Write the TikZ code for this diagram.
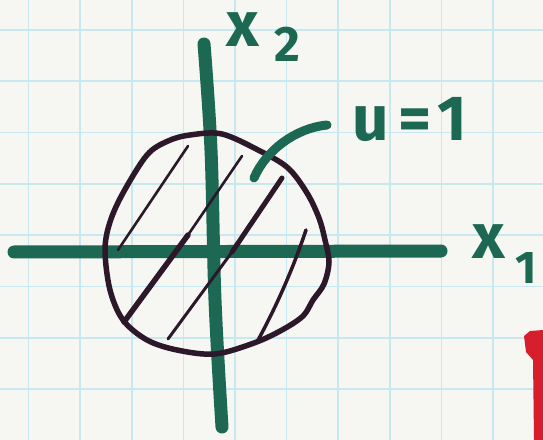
\documentclass[tikz,border=0pt]{standalone}
\usepackage{fontspec}
\setmainfont{Fira Sans}
\definecolor{paper}{RGB}{246,246,243}
\definecolor{gridc}{RGB}{198,232,238}
\definecolor{greenink}{RGB}{28,104,82}
\definecolor{darkink}{RGB}{45,24,42}
\definecolor{redink}{RGB}{215,30,45}
\tikzset{
  axisline/.style={greenink, line width=13bp, line cap=round},
  leader/.style={greenink, line width=9bp, line cap=round},
  circink/.style={darkink, line width=5.5bp, line cap=round, line join=round},
  hatch/.style={darkink, line cap=round},
  handlabel/.style={greenink, font=\fontsize{64}{64}\selectfont\bfseries, inner sep=0pt},
  gridline/.style={gridc, line width=1.6bp}
}
\begin{document}
\begin{tikzpicture}[x=1bp,y=-1bp]
\useasboundingbox (0,0) rectangle (543,440);
\fill[paper] (0,0) rectangle (543,440);
% grid
\foreach \i in {0,...,10} {
  \draw[gridline] ({28.5+51.6*\i},0) -- ({28.5+51.6*\i},440);
}
\foreach \j in {-1,0,...,8} {
  \draw[gridline] (0,{30+51.3*\j}) -- (543,{30+51.3*\j});
}
% axes
\coordinate (hL) at (14,252);
\coordinate (hR) at (441,251);
\draw[axisline] (hL) -- (hR);
\draw[axisline] plot[smooth, tension=0.6] coordinates {(204,44) (211,150) (215,300) (222,427)};
% circle
\draw[circink] plot[smooth cycle, tension=0.55] coordinates {
 (190,135) (222,134) (260,151) (288,168) (307,193) (319,218) (325,240)
 (329,262) (324,284) (313,300) (303,316) (282,330) (254,343) (215,354)
 (177,350) (147,340) (123,320) (110,290) (105,250) (110,222) (123,193)
 (147,155) (168,141)};
% hatch lines
\draw[hatch, line width=2.6bp] (188,146) -- (118,250);
\draw[hatch, line width=2.6bp] (242,156) -- (188,235);
\draw[hatch, line width=5.5bp] (188,235) -- (124,322);
\draw[hatch, line width=5bp] (282,178) -- (232,252);
\draw[hatch, line width=3bp] (232,252) -- (168,339);
\draw[hatch, line width=3.5bp] (306,230) .. controls (296,260) and (280,300) .. (257,342);
% leader line
\coordinate (ldA) at (327,125);
\coordinate (ldB) at (254,178);
\draw[leader] (ldA) .. controls (296,128) and (266,150) .. (ldB);
% labels
\node[handlabel] (labx2) at (243,30) {x};
\node[handlabel, font=\fontsize{50}{50}\selectfont\bfseries] (lab2) at (287,44) {2};
\node[handlabel] (labu) at (410,119) {u\hspace{10bp}=\hspace{6bp}1};
\node[handlabel] (labx1) at (489,242) {x};
\node[handlabel, font=\fontsize{46}{46}\selectfont\bfseries] (lab1) at (526,268) {1};
% red mark
\fill[redink] (524,336) -- (530,331) -- (543,330) -- (543,440) -- (534,440) -- (533,360) -- (526,352) -- cycle;
\end{tikzpicture}
\end{document}
